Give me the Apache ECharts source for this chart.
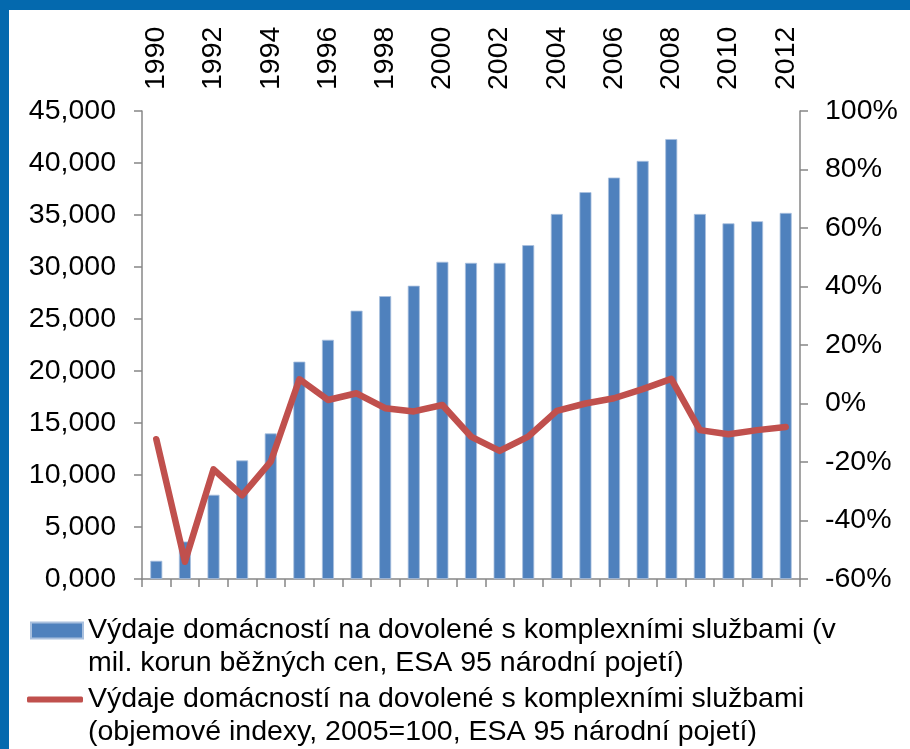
<!DOCTYPE html>
<html>
<head>
<meta charset="utf-8">
<title>Výdaje domácností na dovolené s komplexními službami</title>
<script src="https://cdn.jsdelivr.net/npm/echarts@6/dist/echarts.min.js"></script>
<style>
  html, body { margin: 0; padding: 0; background: #ffffff; }
  #frameTop { position: absolute; left: 0; top: 0; width: 910px; height: 10px; background: #0469ae; }
  #frameLeft { position: absolute; left: 0; top: 0; width: 9px; height: 749px; background: #0469ae; }
  #chart { position: absolute; left: 0; top: 0; width: 910px; height: 749px; }
</style>
</head>
<body>
<div id="frameTop"></div>
<div id="frameLeft"></div>
<div id="chart"></div>
<script>
// Years on the category axis
const years = ['1990', '1991', '1992', '1993', '1994', '1995', '1996', '1997', '1998', '1999',
  '2000', '2001', '2002', '2003', '2004', '2005', '2006', '2007', '2008', '2009',
  '2010', '2011', '2012'];

// Expenditure, mil. CZK at current prices
const spending = [1750, 3600, 8100, 11400, 14000, 20900, 23000, 25800, 27200, 28200,
  30500, 30400, 30400, 32100, 35100, 37200, 38600, 40200, 42300, 35100,
  34200, 34400, 35200];

// Volume index relative to 2005, in percent
const volumeIndex = [-12.2, -54.1, -22.5, -31.4, -19.9, 8.3, 1.2, 3.5, -1.6, -2.7,
  -0.5, -11.3, -16.2, -11.3, -2.5, 0.0, 1.8, 4.9, 8.4, -9.1,
  -10.5, -9.1, -8.0];

const seriesNames = [
  'Výdaje domácností na dovolené s komplexními službami (v\nmil. korun běžných cen, ESA 95 národní pojetí)',
  'Výdaje domácností na dovolené s komplexními službami\n(objemové indexy, 2005=100, ESA 95 národní pojetí)'
];

const FONT = '"Liberation Sans", Arial, sans-serif';
const AXIS_GREY = '#878787';
const FS = 28.5;
const LINE_H = 33;

// Legend text is centred on its icon; an empty leading line keeps the
// first text line level with the icon and lets the second line hang below.
const legendText = {
  fontFamily: FONT,
  fontSize: FS,
  color: '#000000',
  lineHeight: LINE_H
};
const hangingLabel = name => '\n' + name;

const chart = echarts.init(document.getElementById('chart'), null, { renderer: 'canvas' });

chart.setOption({
  backgroundColor: 'transparent',
  animation: false,
  textStyle: { fontFamily: FONT },
  grid: { left: 142, right: 110, top: 111, bottom: 170, containLabel: false },
  legend: [
    {
      data: [{ name: seriesNames[0], icon: 'rect' }],
      formatter: hangingLabel,
      left: 30, top: 581, padding: 0,
      itemWidth: 52, itemHeight: 16,
      selectedMode: false,
      textStyle: legendText
    },
    {
      data: [{ name: seriesNames[1], icon: 'roundRect' }],
      formatter: hangingLabel,
      left: 27, top: 650, padding: 0,
      itemWidth: 56, itemHeight: 6,
      selectedMode: false,
      textStyle: legendText
    }
  ],
  xAxis: [
    {
      type: 'category',
      data: years,
      position: 'bottom',
      boundaryGap: true,
      axisLine: { show: true, onZero: false, lineStyle: { color: AXIS_GREY, width: 1.5 } },
      axisTick: { show: true, interval: 0, length: 8, lineStyle: { color: AXIS_GREY, width: 1.5 } },
      axisLabel: { show: false },
      splitLine: { show: false }
    },
    {
      type: 'category',
      data: years,
      position: 'top',
      boundaryGap: true,
      axisLine: { show: false },
      axisTick: { show: false },
      axisLabel: {
        show: true, interval: 1, rotate: 90, margin: 21,
        fontFamily: FONT, fontSize: FS, color: '#000000'
      },
      splitLine: { show: false }
    }
  ],
  yAxis: [
    {
      type: 'value',
      min: 0, max: 45000, interval: 5000,
      position: 'left',
      axisLine: { show: true, lineStyle: { color: AXIS_GREY, width: 1.5 } },
      axisTick: { show: true, length: 8, lineStyle: { color: AXIS_GREY, width: 1.5 } },
      splitLine: { show: false },
      axisLabel: {
        margin: 26, fontFamily: FONT, fontSize: FS, color: '#000000',
        formatter: v => (v / 1000) + ',000'
      }
    },
    {
      type: 'value',
      min: -60, max: 100, interval: 20,
      position: 'right',
      axisLine: { show: true, lineStyle: { color: AXIS_GREY, width: 1.5 } },
      axisTick: { show: true, length: 8, lineStyle: { color: AXIS_GREY, width: 1.5 } },
      splitLine: { show: false },
      axisLabel: {
        margin: 25, fontFamily: FONT, fontSize: FS, color: '#000000',
        formatter: '{value}%'
      }
    }
  ],
  series: [
    {
      name: seriesNames[0],
      type: 'bar',
      xAxisIndex: 0, yAxisIndex: 0,
      data: spending,
      barWidth: 12,
      itemStyle: { color: '#4f81bd', borderColor: '#a9c0de', borderWidth: 0.8 },
      z: 2
    },
    {
      name: seriesNames[1],
      type: 'line',
      xAxisIndex: 0, yAxisIndex: 1,
      data: volumeIndex,
      showSymbol: false,
      symbol: 'none',
      lineStyle: { color: '#c0504d', width: 6.5, join: 'round', cap: 'round' },
      itemStyle: { color: '#c0504d' },
      z: 3
    }
  ]
});
</script>
</body>
</html>
